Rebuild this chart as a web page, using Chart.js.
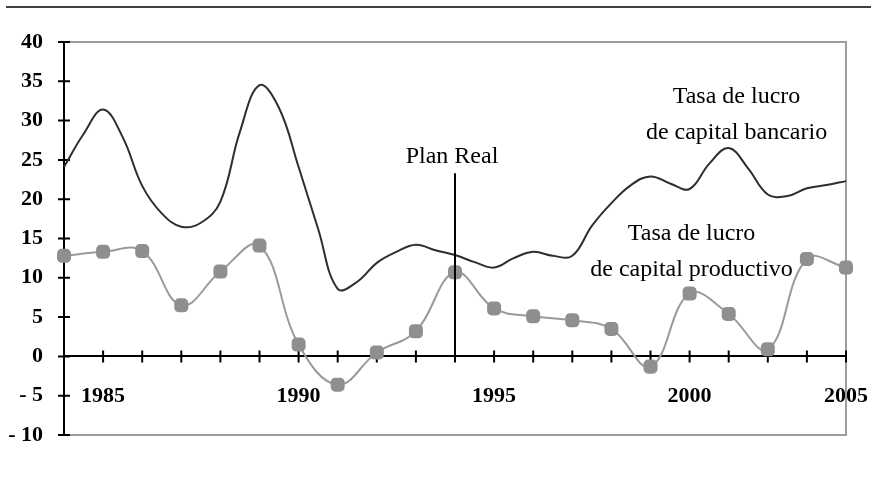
<!DOCTYPE html>
<html>
<head>
<meta charset="utf-8">
<script src="https://cdn.jsdelivr.net/npm/chart.js@4/dist/chart.umd.min.js"></script>
<style>
    html, body { margin: 0; padding: 0; background: #fff; }
    #wrap { width: 871px; height: 483px; }
</style>
</head>
<body>
<div id="wrap"><canvas id="lucroChart"></canvas></div>
<script>
// Years on the axis and the labels printed under it
const years = [1984, 1985, 1986, 1987, 1988, 1989, 1990, 1991, 1992, 1993, 1994,
    1995, 1996, 1997, 1998, 1999, 2000, 2001, 2002, 2003, 2004];
const yearLabels = ['', '1985', '', '', '', '', '1990', '', '', '', '',
    '1995', '', '', '', '', '2000', '', '', '', '2005'];
const yTicks = [-10, -5, 0, 5, 10, 15, 20, 25, 30, 35, 40];

// Tasa de lucro de capital productivo (one marker per year)
const productivo = [12.8, 13.3, 13.4, 6.5, 10.8, 14.1, 1.5, -3.6, 0.5, 3.2, 10.7,
    6.1, 5.1, 4.6, 3.5, -1.3, 8.0, 5.4, 0.9, 12.4, 11.3];

// Tasa de lucro de capital bancario (read every half year)
const bancarioX = [1984, 1984.5, 1985, 1985.5, 1986, 1986.5, 1987, 1987.5, 1988, 1988.5,
    1989, 1989.5, 1990, 1990.5, 1991, 1991.5, 1992, 1992.5, 1993, 1993.5, 1994, 1994.5,
    1995, 1995.5, 1996, 1996.5, 1997, 1997.5, 1998, 1998.5, 1999, 1999.5, 2000, 2000.5,
    2001, 2001.5, 2002, 2002.5, 2003, 2003.5, 2004];
const bancario = [24.1, 28.3, 31.4, 27.9, 21.7, 18.2, 16.5, 17.0, 19.7, 28.6,
    34.5, 31.6, 24.1, 16.2, 8.6, 9.5, 11.9, 13.3, 14.2, 13.5, 12.9, 12.0,
    11.3, 12.5, 13.3, 12.8, 12.8, 16.6, 19.5, 21.8, 22.9, 22.0, 21.3, 24.5,
    26.5, 23.9, 20.6, 20.4, 21.4, 21.8, 22.3];

const planYear = 1994;

class LucroChart {
    constructor() {
        this.font = "'Liberation Serif', 'Times New Roman', serif";
        this.init();
    }

    init() {
        Chart.defaults.font.family = this.font;
        Chart.defaults.color = '#000';
        this.setupChart();
    }

    // frame, crossing tick marks, Plan Real line and the series captions
    decorPlugin() {
        const font = this.font;
        return {
            id: 'decor',
            beforeDraw(chart) {
                const ctx = chart.ctx;
                ctx.save();
                ctx.strokeStyle = '#000';
                ctx.lineWidth = 1.5;
                ctx.beginPath();
                ctx.moveTo(6, 7);
                ctx.lineTo(chart.width, 7);
                ctx.stroke();
                ctx.restore();
            },
            beforeDatasetsDraw(chart) {
                const { ctx, chartArea: a, scales: { x, y } } = chart;
                ctx.save();
                ctx.strokeStyle = '#9d9d9d';
                ctx.lineWidth = 2;
                ctx.beginPath();
                ctx.moveTo(a.left + 1, a.top);
                ctx.lineTo(a.right, a.top);
                ctx.lineTo(a.right, a.bottom);
                ctx.lineTo(a.left + 1, a.bottom);
                ctx.stroke();

                ctx.strokeStyle = '#000';
                ctx.beginPath();
                const y0 = y.getPixelForValue(0);
                x.ticks.forEach(t => {
                    const px = x.getPixelForValue(t.value);
                    if (px <= a.left + 1) return;
                    ctx.moveTo(px, y0 - 6);
                    ctx.lineTo(px, y0 + 6);
                });
                y.ticks.forEach(t => {
                    const py = y.getPixelForValue(t.value);
                    ctx.moveTo(a.left - 6, py);
                    ctx.lineTo(a.left + 6, py);
                });
                ctx.stroke();
                ctx.restore();
            },
            afterDatasetsDraw(chart) {
                const { ctx, scales: { x, y } } = chart;
                ctx.save();
                const px = x.getPixelForValue(planYear);
                ctx.strokeStyle = '#000';
                ctx.lineWidth = 2;
                ctx.beginPath();
                ctx.moveTo(px, y.getPixelForValue(23.3));
                ctx.lineTo(px, y.getPixelForValue(0));
                ctx.stroke();

                ctx.fillStyle = '#000';
                ctx.font = `24px ${font}`;
                ctx.textAlign = 'center';
                ctx.textBaseline = 'alphabetic';
                ctx.fillText('Plan Real', px - 3, y.getPixelForValue(24.6));

                const captions = [
                    { lines: ['Tasa de lucro', 'de capital bancario'], x: 2001.2, y: 32.2 },
                    { lines: ['Tasa de lucro', 'de capital productivo'], x: 2000.05, y: 14.8 }
                ];
                captions.forEach(c => {
                    const cx = x.getPixelForValue(c.x);
                    const cy = y.getPixelForValue(c.y);
                    c.lines.forEach((line, i) => ctx.fillText(line, cx, cy + i * 36));
                });
                ctx.restore();
            }
        };
    }

    setupChart() {
        const ctx = document.getElementById('lucroChart');
        this.chart = new Chart(ctx, {
            type: 'line',
            data: {
                datasets: [{
                    label: 'Tasa de lucro de capital bancario',
                    data: bancarioX.map((yr, i) => ({ x: yr, y: bancario[i] })),
                    borderColor: '#2e2e2e',
                    borderWidth: 2,
                    pointRadius: 0,
                    tension: 0.4,
                    clip: false
                }, {
                    label: 'Tasa de lucro de capital productivo',
                    data: years.map((yr, i) => ({ x: yr, y: productivo[i] })),
                    borderColor: '#9a9a9a',
                    borderWidth: 2,
                    pointStyle: 'rectRounded',
                    pointRadius: 7,
                    pointBackgroundColor: '#8f8f8f',
                    pointBorderColor: '#8f8f8f',
                    tension: 0.4,
                    clip: false
                }]
            },
            options: {
                responsive: true,
                maintainAspectRatio: false,
                animation: false,
                layout: {
                    padding: { top: 42, right: 25, bottom: 48, left: 0 }
                },
                plugins: {
                    legend: { display: false },
                    tooltip: { enabled: false }
                },
                scales: {
                    x: {
                        type: 'linear',
                        position: { y: 0 },
                        min: years[0],
                        max: years[years.length - 1],
                        afterBuildTicks: scale => {
                            scale.ticks = years.map(v => ({ value: v }));
                        },
                        afterFit: scale => {
                            scale.paddingLeft = 0;
                            scale.paddingRight = 0;
                        },
                        grid: { drawOnChartArea: false, drawTicks: false },
                        border: { color: '#000', width: 2 },
                        ticks: {
                            autoSkip: false,
                            maxRotation: 0,
                            padding: 27,
                            font: { size: 22, weight: 'bold' },
                            callback: v => yearLabels[years.indexOf(v)] || ''
                        }
                    },
                    y: {
                        min: yTicks[0],
                        max: yTicks[yTicks.length - 1],
                        afterBuildTicks: scale => {
                            scale.ticks = yTicks.map(v => ({ value: v }));
                        },
                        afterFit: scale => { scale.width = 64; },
                        grid: { drawOnChartArea: false, drawTicks: false },
                        border: { color: '#000', width: 2 },
                        ticks: {
                            padding: 21,
                            font: { size: 22, weight: 'bold' },
                            callback: v => v < 0 ? '- ' + Math.abs(v) : String(v)
                        }
                    }
                }
            },
            plugins: [this.decorPlugin()]
        });
    }
}

document.addEventListener('DOMContentLoaded', () => {
    new LucroChart();
});
</script>
</body>
</html>
